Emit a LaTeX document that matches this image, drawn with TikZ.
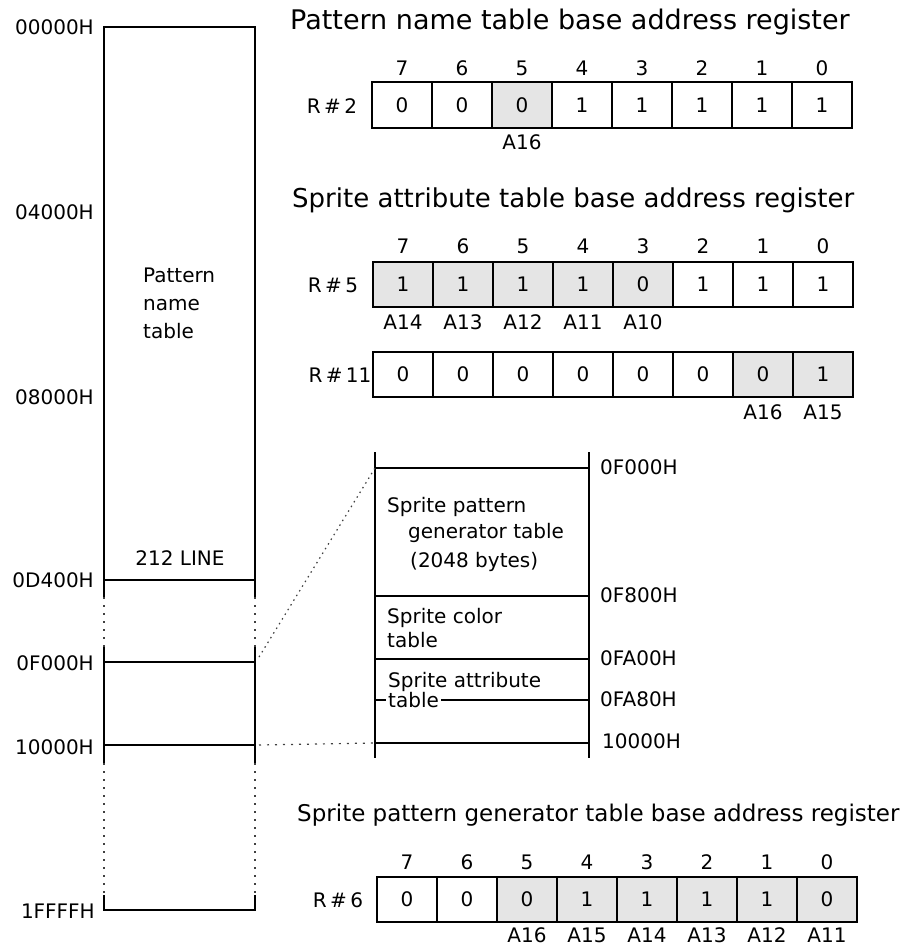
\documentclass[tikz,border=0pt]{standalone}
\usepackage{fontspec}
\setmainfont{DejaVu Sans}
\begin{document}
\begin{tikzpicture}[x=1pt,y=-1pt,
  lbl/.style={font=\fontsize{20}{24}\selectfont, inner sep=0pt},
  ttl/.style={font=\fontsize{26}{30}\selectfont, inner sep=0pt, anchor=west},
  cellbox/.style={draw, line width=2.2pt, minimum width=60pt, minimum height=46pt, inner sep=0pt, font=\fontsize{20}{24}\selectfont},
  mline/.style={line width=2.5pt},
  dotln/.style={line width=1.2pt, black!75, dash pattern=on 2pt off 6pt},
]
\useasboundingbox (0,0) rectangle (907,947);

% ---------------- memory map column ----------------
\coordinate (mTL) at (104,27);
\coordinate (mTR) at (255,27);
\draw[mline] (104,597) -- (mTL) -- (mTR) -- (255,597);
\draw[mline] (104,580) -- (255,580);
\draw[dotln] (104,597) -- (104,647);
\draw[dotln] (255,597) -- (255,647);
\draw[mline] (104,647) -- (104,763);
\draw[mline] (255,647) -- (255,763);
\coordinate (mF0) at (255,662);
\coordinate (m10) at (255,745);
\draw[mline] (104,662) -- (mF0);
\draw[mline] (104,745) -- (m10);
\draw[dotln] (104,763) -- (104,895);
\draw[dotln] (255,763) -- (255,895);
\draw[mline] (104,895) -- (104,910) -- (255,910) -- (255,895);

\node[lbl, anchor=east] (l00000) at (94,27) {00000H};
\node[lbl, anchor=east] (l04000) at (94,212) {04000H};
\node[lbl, anchor=east] (l08000) at (94,397) {08000H};
\node[lbl, anchor=east] (l0D400) at (94,580) {0D400H};
\node[lbl, anchor=east] (l0F000) at (94,663) {0F000H};
\node[lbl, anchor=east] (l10000) at (94,747) {10000H};
\node[lbl, anchor=east] (l1FFFF) at (95,911) {1FFFFH};

\node[lbl, anchor=base west] (pn1) at (143,282) {Pattern};
\node[lbl, anchor=base west] (pn2) at (143,310) {name};
\node[lbl, anchor=base west] (pn3) at (143,338) {table};
\node[lbl] (line212) at (180,558) {212 LINE};

% ---------------- expanded sprite area ----------------
\coordinate (eTL) at (375,468);
\coordinate (eBL) at (375,743);
\coordinate (zsrc) at (259,657);
\coordinate (zsrcb) at (259,745);
\draw[mline] (375,452) -- (375,758);
\draw[mline] (589,452) -- (589,758);
\draw[mline] (eTL) -- (589,468);
\draw[mline] (375,596) -- (589,596);
\draw[mline] (375,659) -- (589,659);
\draw[mline] (375,700) -- (589,700);
\draw[mline] (eBL) -- (589,743);
\draw[dotln, dash pattern=on 1.5pt off 4pt] (zsrc) -- (eTL);
\draw[dotln] (zsrcb) -- (eBL);

\node[lbl, anchor=base west] (sp1) at (387,512) {Sprite pattern};
\node[lbl, anchor=base west] (sp2) at (408,538) {generator table};
\node[lbl, anchor=base west] (sp3) at (410,567) {(2048 bytes)};
\node[lbl, anchor=base west] (sc1) at (387,623) {Sprite color};
\node[lbl, anchor=base west] (sc2) at (387,647) {table};
\node[lbl, anchor=base west, fill=white, inner xsep=2pt, inner ysep=1pt] (sa2) at (386,707) {table};
\node[lbl, anchor=base west] (sa1) at (388,687) {Sprite attribute};

\node[lbl, anchor=west] (rF000) at (600,467) {0F000H};
\node[lbl, anchor=west] (rF800) at (600,595) {0F800H};
\node[lbl, anchor=west] (rFA00) at (600,658) {0FA00H};
\node[lbl, anchor=west] (rFA80) at (600,699) {0FA80H};
\node[lbl, anchor=west] (r10000) at (602,741) {10000H};

% ---------------- R#2 ----------------
\node[ttl, font=\fontsize{27}{31}\selectfont] (t1) at (290,22) {Pattern name table base address register};
\node[lbl] (ra) at (332,106) {R\,\#\,2};
\foreach \b/\v/\f in {7/0/white,6/0/white,5/0/black!10,4/1/white,3/1/white,2/1/white,1/1/white,0/1/white}{
  \node[cellbox, fill=\f] (ra\b) at ({402+(7-\b)*60},105) {\v};
  \node[lbl] (na\b) at ({402+(7-\b)*60},68) {\b};
}
\node[lbl] (aa5) at (522,142) {A16};

% ---------------- R#5 ----------------
\node[ttl] (t2) at (292,200) {Sprite attribute table base address register};
\node[lbl] (rb) at (333,285) {R\,\#\,5};
\foreach \b/\v/\f in {7/1/black!10,6/1/black!10,5/1/black!10,4/1/black!10,3/0/black!10,2/1/white,1/1/white,0/1/white}{
  \node[cellbox, fill=\f, minimum height=45pt] (rb\b) at ({403+(7-\b)*60},284.5) {\v};
  \node[lbl] (nb\b) at ({403+(7-\b)*60},246) {\b};
}
\foreach \b/\a in {7/A14,6/A13,5/A12,4/A11,3/A10}{
  \node[lbl] (ab\b) at ({403+(7-\b)*60},322) {\a};
}

% ---------------- R#11 ----------------
\node[lbl] (rc) at (340,375) {R\,\#\,11};
\foreach \b/\v/\f in {7/0/white,6/0/white,5/0/white,4/0/white,3/0/white,2/0/white,1/0/black!10,0/1/black!10}{
  \node[cellbox, fill=\f, minimum height=45pt] (rc\b) at ({403+(7-\b)*60},374.5) {\v};
}
\foreach \b/\a in {1/A16,0/A15}{
  \node[lbl] (ac\b) at ({403+(7-\b)*60},412) {\a};
}

% ---------------- R#6 ----------------
\node[ttl, font=\fontsize{23}{27}\selectfont] (t3) at (297,815) {Sprite pattern generator table base address register};
\node[lbl] (rd) at (338,900) {R\,\#\,6};
\foreach \b/\v/\f in {7/0/white,6/0/white,5/0/black!10,4/1/black!10,3/1/black!10,2/1/black!10,1/1/black!10,0/0/black!10}{
  \node[cellbox, fill=\f, minimum height=45pt] (rd\b) at ({407+(7-\b)*60},899.5) {\v};
  \node[lbl] (nd\b) at ({407+(7-\b)*60},862) {\b};
}
\foreach \b/\a in {5/A16,4/A15,3/A14,2/A13,1/A12,0/A11}{
  \node[lbl] (ad\b) at ({407+(7-\b)*60},935) {\a};
}
\end{tikzpicture}
\end{document}
